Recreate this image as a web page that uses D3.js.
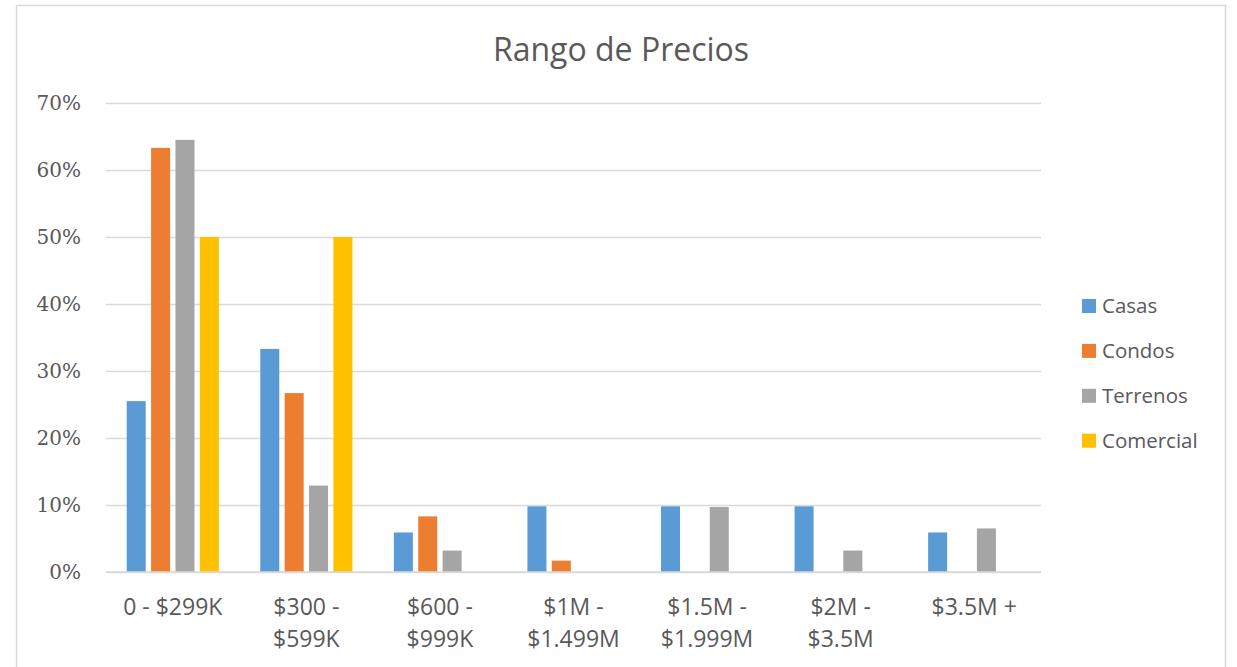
<!DOCTYPE html>
<html>
<head>
<meta charset="utf-8">
<script src="https://cdn.jsdelivr.net/npm/d3@7"></script>
<style>
  html, body { margin: 0; padding: 0; background: #fff; }
  svg { display: block; }
</style>
</head>
<body>
<svg id="chart" width="1237" height="667"></svg>
<script>
const categories = [["0 - $299K"], ["$300 -", "$599K"], ["$600 -", "$999K"], ["$1M -", "$1.499M"], ["$1.5M -", "$1.999M"], ["$2M -", "$3.5M"], ["$3.5M +"]];
const seriesNames = ["Casas", "Condos", "Terrenos", "Comercial"];
const casas = [0.255, 0.333, 0.059, 0.098, 0.098, 0.098, 0.059];
const condos = [0.633, 0.267, 0.083, 0.017, 0, 0, 0];
const terrenos = [0.645, 0.129, 0.032, 0, 0.097, 0.032, 0.065];
const comercial = [0.50, 0.50, 0, 0, 0, 0, 0];
const yTicks = [0, 0.1, 0.2, 0.3, 0.4, 0.5, 0.6, 0.7];
const colors = ["#5b9bd5", "#ed7d31", "#a5a5a5", "#ffc000"];

const seriesValues = [casas, condos, terrenos, comercial];
const svg = d3.select("#chart");

// frame
svg.append("rect").attr("x", 16.5).attr("y", 5.5).attr("width", 1209).attr("height", 700)
  .attr("fill", "#fff").attr("stroke", "#d9d9d9").attr("stroke-width", 1.5);

const plot = { left: 106, right: 1041, top: 103, bottom: 572 };

const x0 = d3.scaleBand().domain(d3.range(categories.length))
  .range([plot.left, plot.right]).paddingInner(0.31).paddingOuter(0.155);
const x1 = d3.scaleBand().domain(d3.range(seriesNames.length))
  .range([0, x0.bandwidth()]).paddingInner(0.22).paddingOuter(0);
const y = d3.scaleLinear().domain([0, 0.7]).range([plot.bottom, plot.top]);

// gridlines
const yAxis = d3.axisLeft(y).tickValues(yTicks).tickFormat(d3.format(".0%"))
  .tickSize(-(plot.right - plot.left)).tickPadding(25);
const gy = svg.append("g").attr("transform", `translate(${plot.left},0)`).call(yAxis);
gy.select(".domain").remove();
gy.selectAll(".tick line").attr("stroke", "#d9d9d9").attr("stroke-width", 1.5);
gy.selectAll(".tick text").attr("fill", "#595959")
  .style("font-family", "'DejaVu Serif', serif").style("font-size", "20px");

// bars
const groups = svg.append("g").selectAll("g").data(seriesNames).join("g")
  .attr("fill", (d, i) => colors[i]);
groups.selectAll("rect")
  .data((d, si) => seriesValues[si].map((v, ci) => ({ v, ci, si })).filter(o => o.v > 0))
  .join("rect")
  .attr("x", d => x0(d.ci) + x1(d.si))
  .attr("width", x1.bandwidth())
  .attr("y", d => y(d.v))
  .attr("height", d => y(0) - y(d.v));

// baseline
svg.append("line").attr("x1", plot.left).attr("x2", plot.right)
  .attr("y1", y(0)).attr("y2", y(0)).attr("stroke", "#d9d9d9").attr("stroke-width", 1.5);

// x labels
const xl = svg.append("g").selectAll("text").data(categories).join("text")
  .attr("x", (d, i) => x0(i) + x0.bandwidth() / 2)
  .attr("y", 615)
  .attr("text-anchor", "middle")
  .attr("fill", "#595959")
  .style("font-family", "'Open Sans', sans-serif").style("font-size", "23px");
xl.selectAll("tspan").data(d => d).join("tspan")
  .attr("x", function () { return d3.select(this.parentNode).attr("x"); })
  .attr("dy", (d, i) => i === 0 ? 0 : 32)
  .text(d => d);

// title
svg.append("text").attr("x", 621).attr("y", 61).attr("text-anchor", "middle")
  .attr("fill", "#595959").style("font-family", "'Open Sans', sans-serif").style("font-size", "32px")
  .text("Rango de Precios");

// legend
const lg = svg.append("g").selectAll("g").data(seriesNames).join("g")
  .attr("transform", (d, i) => `translate(1082, ${306 + i * 44.9})`);
lg.append("rect").attr("x", 0).attr("y", -7).attr("width", 14).attr("height", 14)
  .attr("fill", (d, i) => colors[i]);
lg.append("text").attr("x", 20).attr("y", 0).attr("dy", "0.35em").attr("fill", "#595959")
  .style("font-family", "'Open Sans', sans-serif").style("font-size", "20.5px")
  .text(d => d);
</script>
</body>
</html>
